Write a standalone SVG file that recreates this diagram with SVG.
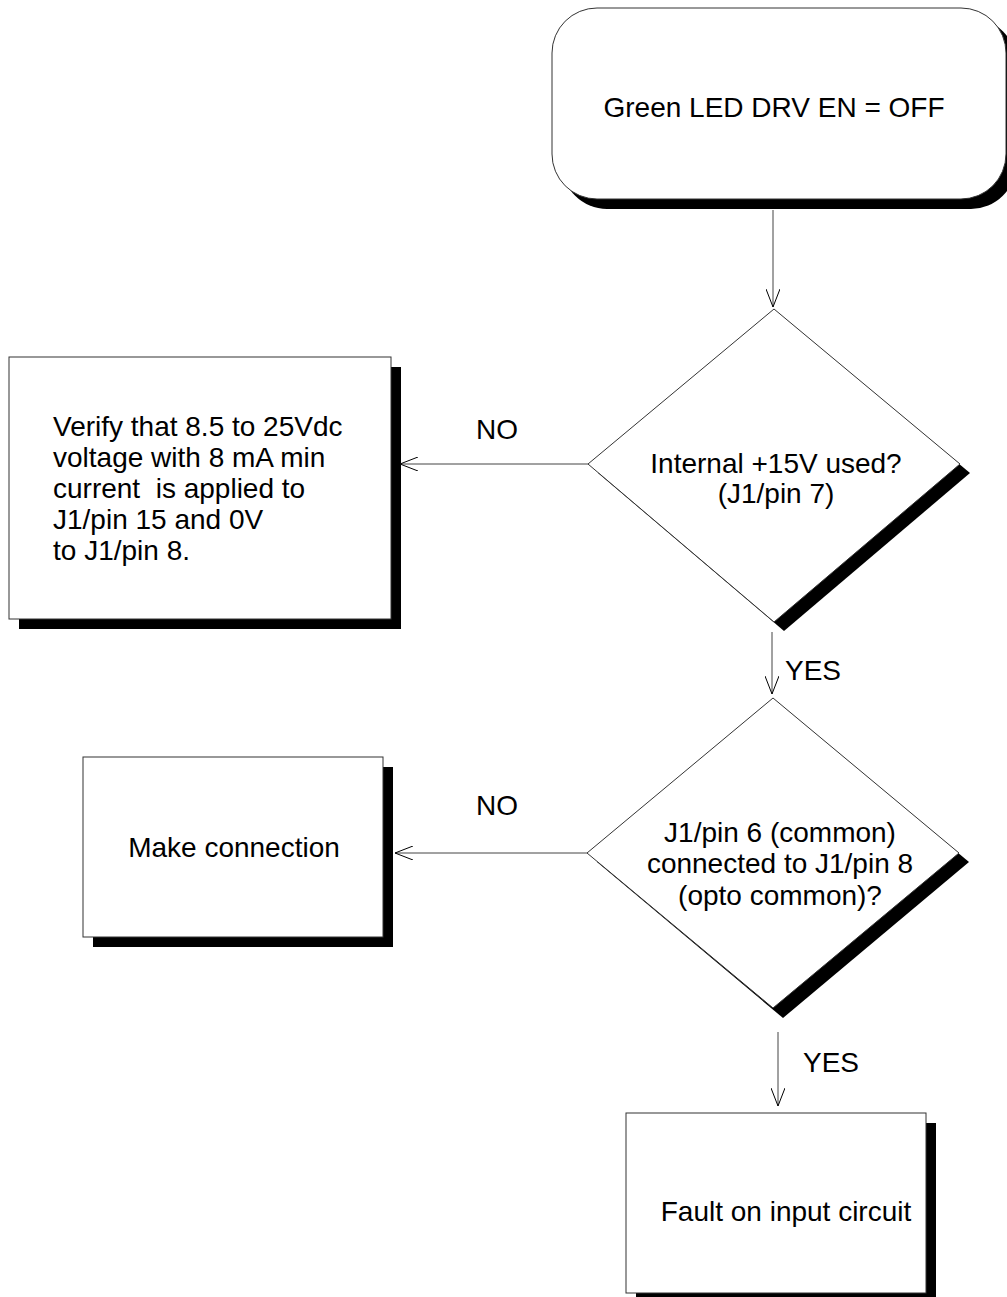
<svg xmlns="http://www.w3.org/2000/svg" width="1007" height="1297" viewBox="0 0 1007 1297">
<style>
.shadow{fill:#000;stroke:none}
.shape{fill:#fff;stroke:#333;stroke-width:1}
.txt{font-family:"Liberation Sans",Arial,sans-serif;font-size:28px;fill:#000}
.mid{text-anchor:middle}
.conn{fill:none;stroke:#444;stroke-width:1}
</style>
<defs>
<marker id="arr" viewBox="0 0 18 14" refX="18" refY="7" markerWidth="18" markerHeight="14" markerUnits="userSpaceOnUse" orient="auto">
<path d="M0,0 L18,7 L0,14" fill="none" stroke="#000" stroke-width="1"/>
</marker>
</defs>
<rect width="1007" height="1297" fill="#fff"/>

<g id="start">
<rect class="shadow" x="562" y="18" width="454" height="191" rx="45" ry="45"/>
<rect class="shape" x="552" y="8" width="454" height="191" rx="45" ry="45"/>
<text class="txt mid" x="774" y="117">Green LED DRV EN = OFF</text>
</g>

<g id="decision1">
<polygon class="shadow" points="784,318 970,473 784,631 598,473"/>
<polygon class="shape" points="774,309 960,464 774,622 588,464"/>
<text class="txt mid" x="776" y="473">Internal +15V used?</text>
<text class="txt mid" x="776" y="503">(J1/pin 7)</text>
</g>

<g id="verify">
<rect class="shadow" x="19" y="367" width="382" height="262"/>
<rect class="shape" x="9" y="357" width="382" height="262"/>
<text class="txt" x="53" y="436">Verify that 8.5 to 25Vdc</text>
<text class="txt" x="53" y="467">voltage with 8 mA min</text>
<text class="txt" x="53" y="498" xml:space="preserve">current  is applied to</text>
<text class="txt" x="53" y="529">J1/pin 15 and 0V</text>
<text class="txt" x="53" y="560">to J1/pin 8.</text>
</g>

<g id="decision2">
<polygon class="shadow" points="783,707 969,862 783,1018 597,862"/>
<polygon class="shape" points="773,698 959,853 773,1008 587,853"/>
<text class="txt mid" x="780" y="842">J1/pin 6 (common)</text>
<text class="txt mid" x="780" y="873">connected to J1/pin 8</text>
<text class="txt mid" x="780" y="905">(opto common)?</text>
</g>

<g id="make">
<rect class="shadow" x="93" y="767" width="300" height="180"/>
<rect class="shape" x="83" y="757" width="300" height="180"/>
<text class="txt mid" x="234" y="857">Make connection</text>
</g>

<g id="fault">
<rect class="shadow" x="636" y="1123" width="300" height="180"/>
<rect class="shape" x="626" y="1113" width="300" height="180"/>
<text class="txt mid" x="786" y="1221">Fault on input circuit</text>
</g>

<g id="connectors">
<line class="conn" x1="773" y1="210" x2="773" y2="307" marker-end="url(#arr)"/>
<line class="conn" x1="588" y1="464" x2="400" y2="464" marker-end="url(#arr)"/>
<text class="txt" x="476" y="439">NO</text>
<line class="conn" x1="772" y1="632" x2="772" y2="694" marker-end="url(#arr)"/>
<text class="txt" x="785" y="680">YES</text>
<line class="conn" x1="587" y1="853" x2="395" y2="853" marker-end="url(#arr)"/>
<text class="txt" x="476" y="815">NO</text>
<line class="conn" x1="778" y1="1032" x2="778" y2="1106" marker-end="url(#arr)"/>
<text class="txt" x="803" y="1072">YES</text>
</g>
</svg>
